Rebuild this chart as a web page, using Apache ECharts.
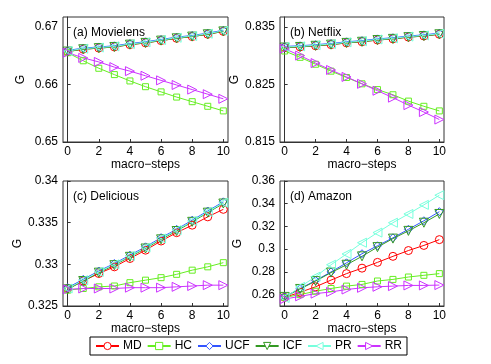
<!DOCTYPE html>
<html>
<head>
<meta charset="utf-8">
<script src="https://cdn.jsdelivr.net/npm/echarts@6/dist/echarts.min.js"></script>
<style>
  html, body { margin: 0; padding: 0; background: #fff; }
  #chart { width: 491px; height: 364px; }
</style>
</head>
<body>
<div id="chart"></div>
<script>
// macro-steps 0..10
const steps = [0, 1, 2, 3, 4, 5, 6, 7, 8, 9, 10];
const methods = ['MD', 'HC', 'UCF', 'ICF', 'PR', 'RR'];

// (a) Movielens
const mlMD  = [0.6657, 0.6661, 0.6663, 0.6665, 0.6669, 0.6672, 0.6676, 0.6680, 0.6683, 0.6687, 0.6692];
const mlHC  = [0.6655, 0.6641, 0.6628, 0.6617, 0.6606, 0.6596, 0.6587, 0.6578, 0.6570, 0.6562, 0.6554];
const mlUCF = [0.6659, 0.6663, 0.6665, 0.6667, 0.6671, 0.6674, 0.6678, 0.6682, 0.6685, 0.6689, 0.6694];
const mlICF = [0.6657, 0.6661, 0.6663, 0.6665, 0.6669, 0.6672, 0.6676, 0.6680, 0.6683, 0.6687, 0.6692];
const mlPR  = [0.6658, 0.6662, 0.6664, 0.6666, 0.6670, 0.6673, 0.6677, 0.6681, 0.6684, 0.6688, 0.6693];
const mlRR  = [0.6655, 0.6646, 0.6639, 0.6630, 0.6623, 0.6615, 0.6607, 0.6599, 0.6591, 0.6583, 0.6575];

// (b) Netflix
const nfMD  = [0.8314, 0.8315, 0.8317, 0.8319, 0.8322, 0.8324, 0.8327, 0.8329, 0.8332, 0.8334, 0.8337];
const nfHC  = [0.8308, 0.8297, 0.8285, 0.8273, 0.8262, 0.8251, 0.8241, 0.8232, 0.8221, 0.8212, 0.8204];
const nfUCF = [0.8316, 0.8317, 0.8319, 0.8321, 0.8324, 0.8326, 0.8329, 0.8331, 0.8334, 0.8336, 0.8339];
const nfICF = [0.8314, 0.8315, 0.8317, 0.8319, 0.8322, 0.8324, 0.8327, 0.8329, 0.8332, 0.8334, 0.8337];
const nfPR  = [0.8315, 0.8316, 0.8318, 0.8320, 0.8323, 0.8325, 0.8328, 0.8330, 0.8333, 0.8335, 0.8338];
const nfRR  = [0.8312, 0.8300, 0.8287, 0.8275, 0.8263, 0.8251, 0.8239, 0.8227, 0.8214, 0.8202, 0.8189];

// (c) Delicious
const dlMD  = [0.3271, 0.3280, 0.3289, 0.3297, 0.3307, 0.3317, 0.3328, 0.3338, 0.3347, 0.3357, 0.3366];
const dlHC  = [0.3269, 0.3271, 0.3273, 0.3274, 0.3278, 0.3281, 0.3284, 0.3288, 0.3293, 0.3297, 0.3302];
const dlUCF = [0.3272, 0.3282, 0.3292, 0.3301, 0.3311, 0.3321, 0.3332, 0.3342, 0.3353, 0.3364, 0.3375];
const dlICF = [0.3270, 0.3280, 0.3290, 0.3299, 0.3309, 0.3319, 0.3330, 0.3340, 0.3351, 0.3362, 0.3373];
const dlPR  = [0.3271, 0.3281, 0.3291, 0.3300, 0.3310, 0.3320, 0.3331, 0.3341, 0.3352, 0.3363, 0.3374];
const dlRR  = [0.3270, 0.3271, 0.3271, 0.3271, 0.3272, 0.3272, 0.3272, 0.3273, 0.3274, 0.3275, 0.3275];

// (d) Amazon
const amMD  = [0.2576, 0.2621, 0.2669, 0.2728, 0.2785, 0.2833, 0.2884, 0.2937, 0.2988, 0.3033, 0.3084];
const amHC  = [0.2576, 0.2600, 0.2630, 0.2654, 0.2675, 0.2690, 0.2720, 0.2734, 0.2755, 0.2770, 0.2785];
const amUCF = [0.2582, 0.2653, 0.2724, 0.2800, 0.2880, 0.2960, 0.3030, 0.3100, 0.3175, 0.3250, 0.3330];
const amICF = [0.2580, 0.2650, 0.2719, 0.2794, 0.2863, 0.2937, 0.3018, 0.3093, 0.3161, 0.3233, 0.3310];
const amPR  = [0.2570, 0.2668, 0.2758, 0.2863, 0.2958, 0.3057, 0.3146, 0.3233, 0.3310, 0.3390, 0.3475];
const amRR  = [0.2561, 0.2585, 0.2609, 0.2624, 0.2645, 0.2660, 0.2669, 0.2675, 0.2681, 0.2681, 0.2684];

const panelTitles = ['(a) Movielens', '(b) Netflix', '(c) Delicious', '(d) Amazon'];
const panelData = [
    [mlMD, mlHC, mlUCF, mlICF, mlPR, mlRR],
    [nfMD, nfHC, nfUCF, nfICF, nfPR, nfRR],
    [dlMD, dlHC, dlUCF, dlICF, dlPR, dlRR],
    [amMD, amHC, amUCF, amICF, amPR, amRR]
];
const xTicks = [0, 2, 4, 6, 8, 10];
const yTicks = [
    [0.65, 0.66, 0.67],
    [0.815, 0.825, 0.835],
    [0.325, 0.33, 0.335, 0.34],
    [0.26, 0.28, 0.3, 0.32, 0.34, 0.36]
];
const yRange = [[0.65, 0.6717], [0.815, 0.8367], [0.325, 0.34], [0.25, 0.36]];

const colors = ['#ff0000', '#66ee22', '#3355ff', '#339922', '#77ffdd', '#cc33ff'];
const symbols = ['circle', 'rect', 'diamond', 'triangle', 'triangle', 'triangle'];
const symbolRot = [0, 0, 0, 180, 90, -90];
const symbolSz = [8, 6, 8, 9, 9, 9];

const grids = [
    { left: 63, top: 17, width: 165, height: 125 },
    { left: 280, top: 17, width: 164, height: 125 },
    { left: 63, top: 181, width: 165, height: 125 },
    { left: 280, top: 181, width: 164, height: 125 }
];

const font = 'Liberation Sans, Arial, sans-serif';
const chart = echarts.init(document.getElementById('chart'));

const xAxis = [], yAxis = [], series = [], title = [];
grids.forEach((g, i) => {
    g.show = true;
    g.borderColor = '#333';
    g.borderWidth = 1;
    g.backgroundColor = '#fff';
    xAxis.push({
        type: 'value', gridIndex: i, min: -0.3, max: 10.3,
        name: 'macro\u2212steps', nameLocation: 'middle', nameGap: 16,
        nameTextStyle: { color: '#000', fontSize: 12, fontFamily: font },
        axisLine: { lineStyle: { color: '#333' } },
        axisTick: { inside: true, length: 3, customValues: xTicks, lineStyle: { color: '#333' } },
        axisLabel: { customValues: xTicks, color: '#000', fontSize: 12, fontFamily: font, margin: 4 },
        splitLine: { show: false }
    });
    yAxis.push({
        type: 'value', gridIndex: i, min: yRange[i][0], max: yRange[i][1],
        name: 'G', nameLocation: 'middle', nameGap: 36, nameRotate: 90,
        nameTextStyle: { color: '#000', fontSize: 12, fontFamily: font },
        axisLine: { lineStyle: { color: '#333' } },
        axisTick: { inside: true, length: 3, customValues: yTicks[i], lineStyle: { color: '#333' } },
        axisLabel: { customValues: yTicks[i], color: '#000', fontSize: 12, fontFamily: font, margin: 5 },
        splitLine: { show: false }
    });
    title.push({
        text: panelTitles[i], left: g.left + 5, top: g.top + 5,
        textStyle: { fontSize: 12, fontWeight: 'normal', color: '#000', fontFamily: font }
    });
    methods.forEach((m, k) => {
        series.push({
            name: m, type: 'line', xAxisIndex: i, yAxisIndex: i,
            data: steps.map((s, j) => [s, panelData[i][k][j]]),
            symbol: symbols[k], symbolRotate: symbolRot[k], symbolSize: symbolSz[k],
            showAllSymbol: true,
            lineStyle: { color: colors[k], width: 1 },
            itemStyle: { color: 'rgba(255,255,255,0)', borderColor: colors[k], borderWidth: 1 },
            emphasis: { disabled: true },
            animation: false
        });
    });
});

const option = {
    animation: false,
    title: title,
    grid: grids,
    xAxis: xAxis,
    yAxis: yAxis,
    legend: {
        data: methods.map((m, k) => ({
            name: m,
            itemStyle: { color: '#fff', borderColor: colors[k], borderWidth: 1 }
        })),
        left: 90, top: 337,
        padding: [3, 5], itemGap: 5, itemWidth: 23, itemHeight: 9,
        borderColor: '#000', borderWidth: 1,
        textStyle: { color: '#000', fontSize: 12, fontFamily: font, padding: [0, 0, 0, -1] }
    },
    series: series
};

chart.setOption(option);
</script>
</body>
</html>
